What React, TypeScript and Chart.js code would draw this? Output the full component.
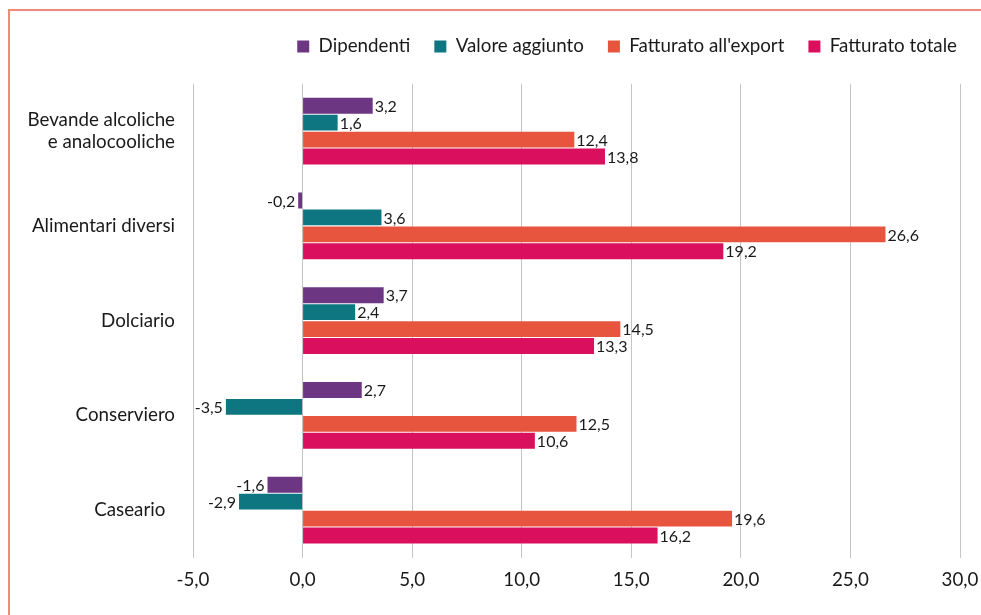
import React, { useEffect, useRef } from "react";
import { Chart, registerables } from "chart.js";

Chart.register(...registerables);

const categories: (string | string[])[] = [
  ["Bevande alcoliche", "e analocooliche"],
  "Alimentari diversi",
  "Dolciario",
  "Conserviero",
  "Caseario  ",
];
const dipendenti = [3.2, -0.2, 3.7, 2.7, -1.6];
const valoreAggiunto = [1.6, 3.6, 2.4, -3.5, -2.9];
const fatturatoExport = [12.4, 26.6, 14.5, 12.5, 19.6];
const fatturatoTotale = [13.8, 19.2, 13.3, 10.6, 16.2];
const seriesNames = ["Dipendenti", "Valore aggiunto", "Fatturato all'export", "Fatturato totale"];
const seriesColors = ["#6D3683", "#0D7681", "#E8553F", "#DA0F5E"];
const xMin = -5;
const xMax = 30;
const xStep = 5;

const FONT = 18.75;
const fmt = (v: number) => v.toFixed(1).replace(".", ",");

const labelPlugin = {
  id: "barLabels",
  afterDatasetsDraw(chart: any) {
    const ctx = chart.ctx;
    ctx.save();
    ctx.font = "16px Lato";
    ctx.fillStyle = "#1a1a1a";
    ctx.textBaseline = "middle";
    chart.data.datasets.forEach((ds: any, i: number) => {
      const meta = chart.getDatasetMeta(i);
      meta.data.forEach((el: any, j: number) => {
        const v = ds.data[j];
        if (v >= 0) {
          ctx.textAlign = "left";
          ctx.fillText(fmt(v), el.x + 2, el.y + 1);
        } else {
          ctx.textAlign = "right";
          ctx.fillText(fmt(v), el.x - 3, el.y + 1);
        }
      });
    });
    ctx.restore();
  },
};

export default function App() {
  const ref = useRef<HTMLCanvasElement>(null);
  useEffect(() => {
    if (!ref.current) return;
    const data = [dipendenti, valoreAggiunto, fatturatoExport, fatturatoTotale];
    const chart = new Chart(ref.current, {
      type: "bar",
      data: {
        labels: categories,
        datasets: seriesNames.map((n, i) => ({
          label: n,
          data: data[i],
          xAxisID: "x",
          backgroundColor: seriesColors[i],
          borderWidth: 0,
          categoryPercentage: 0.716,
          barPercentage: 0.94,
        })),
      },
      options: {
        indexAxis: "y",
        animation: false,
        responsive: false,
        maintainAspectRatio: false,
        layout: { padding: { left: 10, right: 0, top: 13, bottom: 13 } },
        plugins: {
          legend: {
            position: "top",
            align: "end",
            labels: {
              boxWidth: 12,
              boxHeight: 12,
              padding: 24,
              color: "#1a1a1a",
              font: { family: "Lato", size: FONT },
            },
          },
          tooltip: { enabled: false },
        },
        scales: {
          x: {
            min: xMin,
            max: xMax,
            ticks: {
              stepSize: xStep,
              callback: (v: any) => fmt(Number(v)),
              color: "#1a1a1a",
              font: { family: "Lato", size: FONT },
              padding: 11,
            },
            grid: { color: "#C4C4C4", lineWidth: 1, drawTicks: false },
            border: { display: false },
            afterFit: (s: any) => {
              s.paddingRight = 21;
              s.paddingLeft = 0;
            },
          },
          xTop: {
            type: "linear",
            position: "top",
            axis: "x",
            min: xMin,
            max: xMax,
            ticks: { display: false },
            grid: { display: false, drawTicks: false },
            border: { display: false },
            afterFit: (s: any) => {
              s.height = 18;
            },
          },
          y: {
            ticks: {
              color: "#1a1a1a",
              font: { family: "Lato", size: FONT, lineHeight: 1.15 },
              padding: 18,
            },
            grid: { display: false, drawTicks: false },
            border: { display: false },
            afterFit: (s: any) => {
              s.width = 183;
            },
          },
        },
      },
      plugins: [labelPlugin],
    });
    return () => chart.destroy();
  }, []);
  return (
    <div>
      <div
        style={{
          position: "fixed",
          left: 8,
          top: 9,
          width: 1000,
          height: 700,
          border: "2px solid #F08A78",
          boxSizing: "border-box",
        }}
      />
      <canvas
        ref={ref}
        width={981}
        height={615}
        style={{ position: "fixed", left: 0, top: 0, width: 981, height: 615 }}
      />
    </div>
  );
}
